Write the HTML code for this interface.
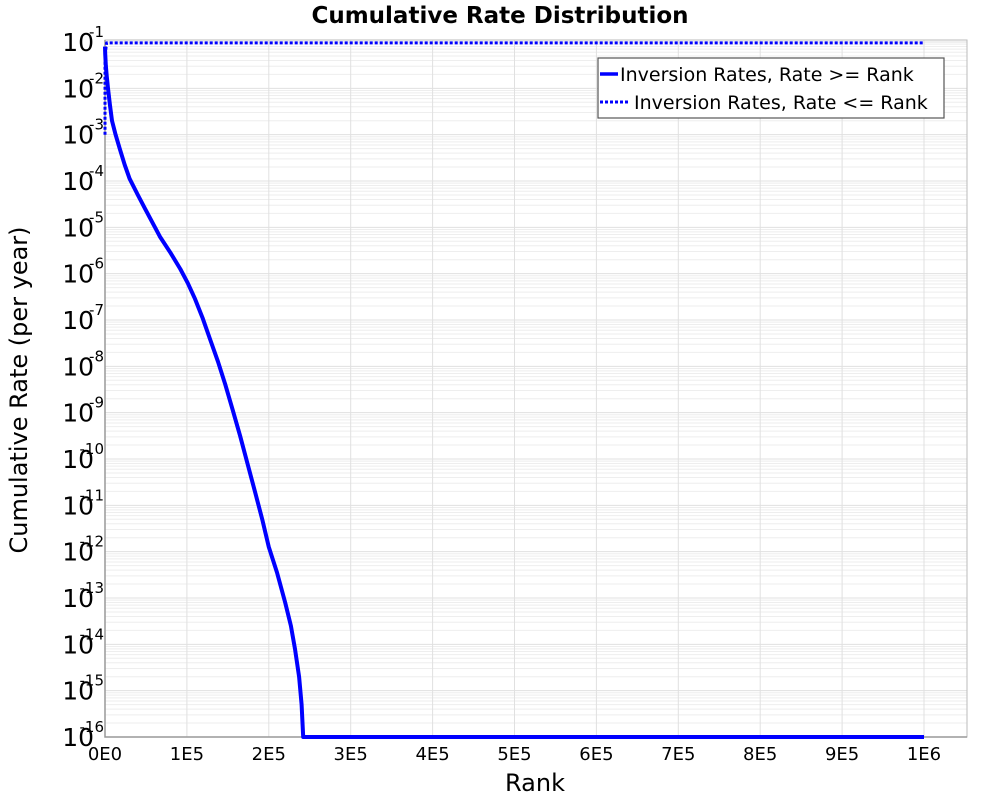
<!DOCTYPE html>
<html><head><meta charset="utf-8"><style>
body{margin:0;background:#fff;}
svg{display:block;font-family:"DejaVu Sans","Liberation Sans",sans-serif;}
</style></head><body>
<svg id="chart" width="1000" height="800" xmlns="http://www.w3.org/2000/svg">
<text x="500" y="23" text-anchor="middle" font-size="23" font-weight="bold">Cumulative Rate Distribution</text>
<text x="535" y="791" text-anchor="middle" font-size="24">Rank</text>
<text transform="translate(27,390) rotate(-90)" text-anchor="middle" font-size="24">Cumulative Rate (per year)</text>
<g id="grid"></g>
<g id="axes"></g>
<g id="series"></g>
<g>
<rect x="598" y="58" width="346" height="60" fill="#fff" stroke="#555" stroke-width="1.2"/>
<line x1="600" y1="74" x2="618" y2="74" stroke="#00f" stroke-width="3.5"/>
<text x="620" y="81" font-size="19">Inversion Rates, Rate &gt;= Rank</text>
<line x1="600" y1="102" x2="628" y2="102" stroke="#00f" stroke-width="3" stroke-dasharray="3,2"/>
<text x="634" y="109" font-size="19">Inversion Rates, Rate &lt;= Rank</text>
</g>
</svg>
<script>
const xTicks=[0,1e5,2e5,3e5,4e5,5e5,6e5,7e5,8e5,9e5,1e6];
const xTickLabels=["0E0","1E5","2E5","3E5","4E5","5E5","6E5","7E5","8E5","9E5","1E6"];
const yExps=[-1,-2,-3,-4,-5,-6,-7,-8,-9,-10,-11,-12,-13,-14,-15,-16];
const geRanks=[0,300,1000,2200,3700,6000,8500,13000,18000,24000,30000,40000,49000,58000,67000,80000,92000,101000,110000,119000,128000,138000,147000,156000,165000,174000,183000,192000,200000,210000,220000,227000,232000,237000,240000,242000,1000000];
const geLogRates=[-1.1,-1.25,-1.5,-1.75,-2,-2.35,-2.7,-3.0,-3.3,-3.65,-3.95,-4.3,-4.6,-4.9,-5.2,-5.55,-5.9,-6.2,-6.55,-6.95,-7.4,-7.9,-8.4,-8.95,-9.5,-10.1,-10.7,-11.3,-11.9,-12.45,-13.1,-13.6,-14.1,-14.7,-15.3,-16,-16];
const leRanks=[0,0,2000,1000000];
const leLogRates=[-3,-1.3,-1.02,-1.02];

const L=105,R=967,T=42,B=737,xMax=1.0525e6;
const X=v=>L+v/xMax*(R-L);
const Y=e=>T+(-1-e)/15*(B-T);
const NS="http://www.w3.org/2000/svg";
function mk(parent,tag,attrs){const el=document.createElementNS(NS,tag);for(const k in attrs)el.setAttribute(k,attrs[k]);parent.appendChild(el);return el;}
const grid=document.getElementById('grid'),axes=document.getElementById('axes'),series=document.getElementById('series');
for(let d=-16;d<-1;d++){for(let m=2;m<=9;m++){const y=Y(d+Math.log10(m));
const l=mk(grid,'line',{x1:L,x2:R,y1:y,y2:y,stroke:'#eeeeee','stroke-width':1});

}}
yExps.forEach(e=>{const y=Y(e);
const l=mk(grid,'line',{x1:L,x2:R,y1:y,y2:y,stroke:'#e0e0e0','stroke-width':1});


const t=mk(axes,'text',{x:94,y:y+9,'text-anchor':'end','font-size':25});


t.textContent='10';
const s=mk(axes,'text',{x:104,y:y-5,'text-anchor':'end','font-size':15});


s.textContent=String(e);});
xTicks.forEach((v,i)=>{const x=X(v);
const l=mk(grid,'line',{x1:x,x2:x,y1:T-2,y2:B,stroke:'#e0e0e0','stroke-width':1});


const t=mk(axes,'text',{x:x,y:B+23,'text-anchor':'middle','font-size':18});


t.textContent=xTickLabels[i];});
const fr=mk(axes,'rect',{x:L,y:T-2,width:R-L,height:B-T+2,fill:'none',stroke:'#bbb','stroke-width':1});


const ax=mk(axes,'path',{d:`M${L},${T-2}V${B}H${R}`,fill:'none',stroke:'#999','stroke-width':1.5});


function line(xs,ys,dash,name){const d=xs.map((v,i)=>(i?'L':'M')+X(v).toFixed(1)+','+Y(ys[i]).toFixed(1)).join('');
const p=mk(series,'path',{d:d,fill:'none',stroke:'#00f','stroke-width':dash?3:4,'stroke-linejoin':'round'});
if(dash)p.setAttribute('stroke-dasharray','3,2');

}
line(leRanks,leLogRates,true,'line-rate-le-rank');
line(geRanks,geLogRates,false,'line-rate-ge-rank');
</script>
</body></html>
